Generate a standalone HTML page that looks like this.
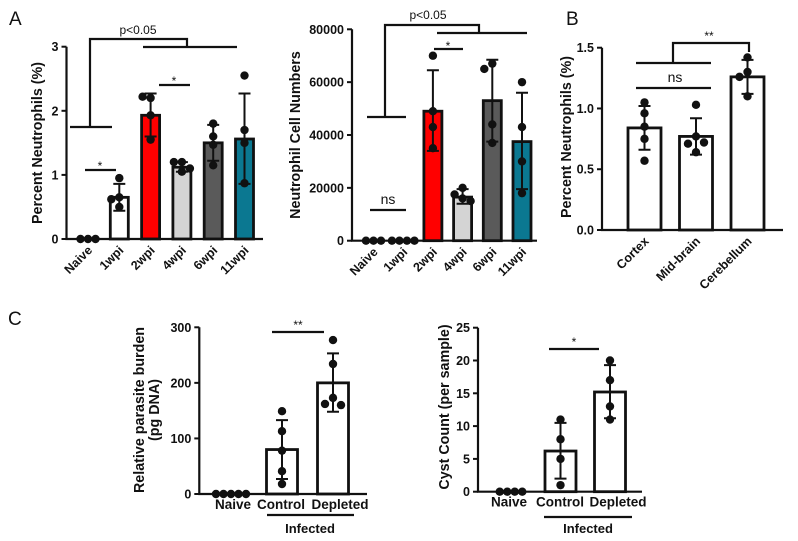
<!DOCTYPE html>
<html><head><meta charset="utf-8">
<style>
html,body{margin:0;padding:0;background:#fff;}
svg{display:block;font-family:"Liberation Sans",Arial,sans-serif;}
text{font-weight:bold;fill:#111;}
</style></head>
<body>
<svg id="fig" width="798" height="541" viewBox="0 0 798 541" xmlns="http://www.w3.org/2000/svg">
<g id="static" stroke="#111" stroke-width="2.2" fill="none">
  <polyline points="70,127 112,127"/>
  <polyline points="90,127 90,39 187,39 187,47"/>
  <polyline points="143,47 237,47"/>
  <line x1="85" y1="170" x2="116" y2="170"/>
  <line x1="159" y1="85" x2="190" y2="85"/>
  <polyline points="367,117 406,117"/>
  <polyline points="385,117 385,25 479,25 479,33"/>
  <polyline points="437,33 527,33"/>
  <line x1="434" y1="49" x2="463" y2="49"/>
  <line x1="370" y1="210" x2="406" y2="210"/>
  <line x1="636" y1="63" x2="711" y2="63"/>
  <polyline points="673,63 673,43 749,43 749,52"/>
  <line x1="636" y1="88" x2="711" y2="88"/>
  <line x1="272" y1="332" x2="324" y2="332"/>
  <line x1="267" y1="515" x2="354" y2="515"/>
  <line x1="549" y1="349" x2="599" y2="349"/>
  <line x1="544" y1="517" x2="632" y2="517"/>
</g>
<g id="labels" font-size="12">
  <text x="9" y="25" font-size="19" style="font-weight:normal">A</text>
  <text x="566" y="25" font-size="19" style="font-weight:normal">B</text>
  <text x="8" y="325" font-size="19" style="font-weight:normal">C</text>
  <text x="138" y="34" text-anchor="middle" style="font-weight:normal">p&lt;0.05</text>
  <text x="100" y="170" text-anchor="middle" style="font-weight:normal">*</text>
  <text x="174" y="85" text-anchor="middle" style="font-weight:normal">*</text>
  <text x="428" y="19" text-anchor="middle" style="font-weight:normal">p&lt;0.05</text>
  <text x="448" y="50" text-anchor="middle" style="font-weight:normal">*</text>
  <text x="388" y="204" text-anchor="middle" font-size="14" style="font-weight:normal">ns</text>
  <text x="709" y="40" text-anchor="middle" style="font-weight:normal">**</text>
  <text x="675" y="82" text-anchor="middle" font-size="14" style="font-weight:normal">ns</text>
  <text x="298" y="329" text-anchor="middle" style="font-weight:normal">**</text>
  <text x="574" y="346" text-anchor="middle" style="font-weight:normal">*</text>
  <text x="310" y="533" text-anchor="middle" font-size="13">Infected</text>
  <text x="588" y="533" text-anchor="middle" font-size="13">Infected</text>
</g>
</svg>
<script>
// Panel A1: Percent Neutrophils over time
const a1Categories = ["Naive","1wpi","2wpi","4wpi","6wpi","11wpi"];
const a1Means = [0, 0.65, 1.93, 1.12, 1.5, 1.56];
const a1ErrLo = [0, 0.44, 1.6, 1.05, 1.22, 0.86];
const a1ErrHi = [0, 0.86, 2.27, 1.2, 1.78, 2.27];
const a1Dots = [[0,0,0],[0.95,0.65,0.62,0.5],[2.2,2.22,1.93,1.55],[1.2,1.2,1.1,1.05],[1.8,1.6,1.47,1.15],[2.55,1.7,1.5,0.87]];
const a1Ticks = [0,1,2,3];
const a1TickLabels = ["0","1","2","3"];
// Panel A2: Neutrophil cell numbers
const a2Categories = ["Naive","1wpi","2wpi","4wpi","6wpi","11wpi"];
const a2Means = [0, 0, 49000, 16500, 53000, 37500];
const a2ErrLo = [0, 0, 34000, 14000, 37500, 19500];
const a2ErrHi = [0, 0, 64500, 19500, 68500, 56000];
const a2Dots = [[0,0,0],[0,0,0,0],[70000,49000,43000,35000],[20000,17500,16000,15000],[67000,65000,44000,37000],[60000,43000,30000,18000]];
const a2Ticks = [0,20000,40000,60000,80000];
const a2TickLabels = ["0","20000","40000","60000","80000"];
// Panel B: brain regions
const bCategories = ["Cortex","Mid-brain","Cerebellum"];
const bMeans = [0.84, 0.77, 1.26];
const bErrLo = [0.66, 0.62, 1.12];
const bErrHi = [1.02, 0.92, 1.40];
const bDots = [[1.05,0.96,0.85,0.75,0.57],[1.03,0.77,0.71,0.72,0.64],[1.42,1.30,1.26,1.10]];
const bTicks = [0,0.5,1.0,1.5];
const bTickLabels = ["0.0","0.5","1.0","1.5"];
// Panel C1: parasite burden
const c1Categories = ["Naive","Control","Depleted"];
const c1Means = [0, 80, 200];
const c1ErrLo = [0, 27, 148];
const c1ErrHi = [0, 133, 253];
const c1Dots = [[0,0,0,0,0],[149,113,78,41,18],[277,234,173,162,160]];
const c1Ticks = [0,100,200,300];
const c1TickLabels = ["0","100","200","300"];
// Panel C2: cyst count
const c2Categories = ["Naive","Control","Depleted"];
const c2Means = [0, 6.2, 15.2];
const c2ErrLo = [0, 2, 11.2];
const c2ErrHi = [0, 10.5, 19.3];
const c2Dots = [[0,0,0,0],[11,8,5,1],[20,17,13,11]];
const c2Ticks = [0,5,10,15,20,25];
const c2TickLabels = ["0","5","10","15","20","25"];

const NS = "http://www.w3.org/2000/svg";
const svg = document.getElementById("fig");
function mk(tag, attrs, parent){
  const e = document.createElementNS(NS, tag);
  for (const k in attrs) e.setAttribute(k, attrs[k]);
  (parent||svg).appendChild(e);
  return e;
}

function drawPanel(p){
  const g = mk("g", {});
  
  
  const maxV = p.ticks[p.ticks.length-1];
  const y = v => p.y0 - v / maxV * (p.y0 - p.yTop);
  const cx = i => p.c0 + i * p.step;
  p.means.forEach((m,i)=>{
    if (p.colors[i] === null) return;
    const r = mk("rect", {x: cx(i)-p.bw/2, y: y(m), width: p.bw, height: p.y0 - y(m), fill: p.colors[i], stroke:"#111", "stroke-width":2.8}, g);
    
    
  });
  p.dots.forEach((arr,i)=>{
    const placed = [];
    const zero = arr.every(v=>v===0);
    arr.forEach((v,j)=>{
      let dx = 0;
      const yy = y(v);
      if (zero) dx = (j - (arr.length-1)/2) * 7.5;
      else {
        const cands = [0,-8,8,-16,16];
        for (const c of cands) {
          if (!placed.some(q=>Math.hypot(q.x-c, q.y-yy) < 7.5)) { dx = c; break; }
        }
        placed.push({x:dx, y:yy});
      }
      const c = mk("circle", {cx: cx(i)+dx, cy: yy, r: 4.2, fill:"#111"}, g);
      
      
    });
  });
  p.means.forEach((m,i)=>{
    if (p.errHi[i] === p.errLo[i]) return;
    const e = mk("path", {d: `M${cx(i)},${y(p.errLo[i])}V${y(p.errHi[i])}M${cx(i)-6},${y(p.errHi[i])}h12M${cx(i)-6},${y(p.errLo[i])}h12`, stroke:"#111", "stroke-width":2, fill:"none"}, g);
    
    
  });
  const ax = mk("path", {d:`M${p.x0},${p.yTop}V${p.y0}H${p.xEnd}`, stroke:"#111", "stroke-width":2.2, fill:"none"}, g);
  
  
  p.ticks.forEach((t,k)=>{
    const tk = mk("line", {x1:p.x0-5, x2:p.x0, y1:y(t), y2:y(t), stroke:"#111", "stroke-width":2}, g);
    
    
    const tl = mk("text", {x:p.x0-8, y:y(t)+4.5, "text-anchor":"end", "font-size":12.5}, g);
    tl.textContent = p.tickLabels[k];
    
    
  });
  p.cats.forEach((c,i)=>{
    let t;
    if (p.rotate) {
      const lx = cx(i)+5, ly = p.y0+12;
      t = mk("text", {x:lx, y:ly, "text-anchor":"end", "font-size":12.5, transform:`rotate(-45 ${lx} ${ly})`}, g);
    } else {
      t = mk("text", {x:p.labelX[i], y:p.y0+15, "text-anchor":"middle", "font-size":13.5}, g);
    }
    t.textContent = c;
    
    
  });
  p.title.forEach((line,k)=>{
    const tx = p.titleX + k*15, ty = p.titleY;
    const t = mk("text", {x:tx, y:ty, "text-anchor":"middle", "font-size":14.3, transform:`rotate(-90 ${tx} ${ty})`}, g);
    t.textContent = line;
    
    
  });
}

drawPanel({name:"a1", cats:a1Categories, means:a1Means, errLo:a1ErrLo, errHi:a1ErrHi, dots:a1Dots, ticks:a1Ticks, tickLabels:a1TickLabels,
  x0:66.5, y0:239, yTop:46.7, xEnd:263, c0:88, step:31.3, bw:18, rotate:true,
  colors:[null,"#ffffff","#ff0000","#d4d4d4","#5a5a5a","#0b7891"], title:["Percent Neutrophils (%)"], titleX:42, titleY:143});
drawPanel({name:"a2", cats:a2Categories, means:a2Means, errLo:a2ErrLo, errHi:a2ErrHi, dots:a2Dots, ticks:a2Ticks, tickLabels:a2TickLabels,
  x0:352, y0:240.7, yTop:29.3, xEnd:537, c0:373.5, step:29.7, bw:18, rotate:true,
  colors:[null,null,"#ff0000","#d4d4d4","#5a5a5a","#0b7891"], title:["Neutrophil Cell Numbers"], titleX:300, titleY:135});
drawPanel({name:"b", cats:bCategories, means:bMeans, errLo:bErrLo, errHi:bErrHi, dots:bDots, ticks:bTicks, tickLabels:bTickLabels,
  x0:602, y0:230, yTop:47.7, xEnd:783, c0:644.5, step:51.5, bw:33, rotate:true,
  colors:["#ffffff","#ffffff","#ffffff"], title:["Percent Neutrophils (%)"], titleX:571, titleY:137});
drawPanel({name:"c1", cats:c1Categories, means:c1Means, errLo:c1ErrLo, errHi:c1ErrHi, dots:c1Dots, ticks:c1Ticks, tickLabels:c1TickLabels,
  x0:199.3, y0:494, yTop:327.3, xEnd:367, c0:231, step:51, bw:31, rotate:false, labelX:[233,281,340],
  colors:[null,"#ffffff","#ffffff"], title:["Relative parasite burden","(pg DNA)"], titleX:144, titleY:410});
drawPanel({name:"c2", cats:c2Categories, means:c2Means, errLo:c2ErrLo, errHi:c2ErrHi, dots:c2Dots, ticks:c2Ticks, tickLabels:c2TickLabels,
  x0:478, y0:491.7, yTop:327.7, xEnd:642, c0:511, step:49.5, bw:31, rotate:false, labelX:[509,560,618],
  colors:[null,"#ffffff","#ffffff"], title:["Cyst Count (per sample)"], titleX:449, titleY:407});
</script>
</body></html>
